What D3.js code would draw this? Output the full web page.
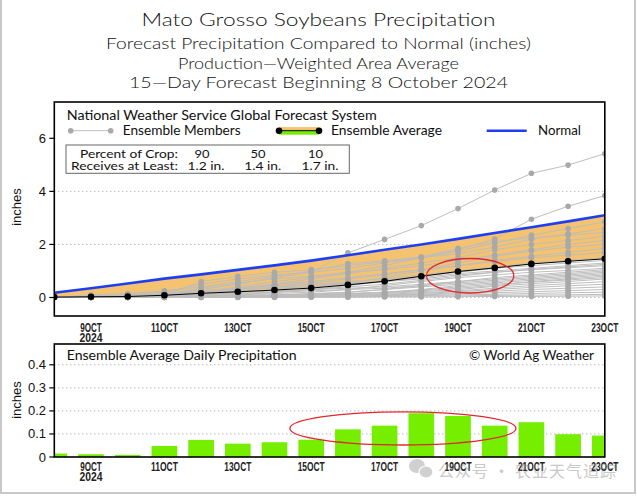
<!DOCTYPE html>
<html><head><meta charset="utf-8">
<script src="https://cdn.jsdelivr.net/npm/d3@7/dist/d3.min.js"></script>
<style>body{margin:0;background:#fff}svg{display:block}</style>
</head><body>
<script>
// ---------- data ----------
const days = [8,9,10,11,12,13,14,15,16,17,18,19,20,21,22,23];
const tickDays = [9,11,13,15,17,19,21,23];
const tickLabels = ["9OCT","11OCT","13OCT","15OCT","17OCT","19OCT","21OCT","23OCT"];
const yearLabel = "2024";
const yTicksTop = [0,2,4,6];
const yGridTop = [0,2,4];
const yTicksBot = [0,0.1,0.2,0.3,0.4];
const yTickBotLabels = ["0","0.1","0.2","0.3","0.4"];
const normal = [0.18,0.35,0.53,0.71,0.87,1.04,1.21,1.39,1.59,1.80,2.00,2.21,2.43,2.65,2.87,3.10];
const ensAvg = [0.015,0.027,0.036,0.084,0.158,0.216,0.28,0.355,0.475,0.611,0.801,0.979,1.115,1.266,1.365,1.458];
const daily  = [0.015,0.012,0.009,0.048,0.074,0.058,0.064,0.075,0.12,0.136,0.19,0.178,0.136,0.151,0.099,0.093];
const members = [
 [0,0.02,0.05,0.10,0.30,0.50,0.75,0.95,1.68,2.19,2.71,3.35,4.05,4.68,4.99,5.42],
 [0,0.01,0.03,0.06,0.20,0.40,0.60,0.75,0.95,1.20,1.50,1.80,2.20,2.95,3.44,3.84],
 [0,0.05,0.10,0.20,0.50,0.70,0.85,0.95,1.10,1.30,1.50,1.75,2.05,2.35,2.60,2.85],
 [0,0.02,0.05,0.10,0.60,0.80,0.95,1.05,1.20,1.35,1.50,1.65,1.90,2.20,2.40,2.60],
 [0,0.10,0.15,0.25,0.40,0.60,0.80,1.00,1.28,1.38,1.53,1.85,2.10,2.25,2.35,2.45],
 [0,0.00,0.02,0.05,0.15,0.30,0.50,0.70,0.90,1.10,1.30,1.50,1.80,2.00,2.15,2.30],
 [0,0.03,0.06,0.12,0.35,0.55,0.70,0.80,0.95,1.05,1.20,1.40,1.60,1.80,2.00,2.15],
 [0,0.02,0.04,0.08,0.20,0.35,0.45,0.55,0.70,0.85,1.05,1.30,1.55,1.75,1.90,2.00],
 [0,0.01,0.02,0.05,0.10,0.20,0.30,0.40,0.55,0.75,1.00,1.20,1.40,1.55,1.70,1.85],
 [0,0.04,0.08,0.15,0.25,0.35,0.50,0.60,0.75,0.90,1.05,1.20,1.35,1.50,1.60,1.70],
 [0,0.00,0.01,0.03,0.10,0.25,0.40,0.50,0.60,0.70,0.85,1.00,1.15,1.30,1.40,1.50],
 [0,0.02,0.05,0.10,0.20,0.30,0.35,0.40,0.50,0.65,0.80,0.95,1.10,1.20,1.30,1.40],
 [0,0.00,0.00,0.02,0.05,0.10,0.20,0.30,0.45,0.60,0.75,0.90,1.00,1.10,1.20,1.30],
 [0,0.05,0.10,0.15,0.25,0.30,0.40,0.45,0.55,0.60,0.70,0.85,0.95,1.05,1.15,1.25],
 [0,0.01,0.02,0.04,0.08,0.12,0.20,0.30,0.40,0.50,0.65,0.80,0.95,1.05,1.12,1.20],
 [0,0.00,0.01,0.02,0.05,0.10,0.15,0.20,0.30,0.45,0.60,0.75,0.85,0.95,1.02,1.10],
 [0,0.03,0.05,0.08,0.12,0.18,0.25,0.30,0.35,0.40,0.50,0.60,0.75,0.85,0.95,1.05],
 [0,0.00,0.00,0.01,0.03,0.05,0.08,0.12,0.20,0.30,0.45,0.60,0.70,0.80,0.90,1.00],
 [0,0.02,0.03,0.05,0.10,0.15,0.20,0.25,0.30,0.35,0.45,0.55,0.65,0.75,0.85,0.95],
 [0,0.00,0.01,0.02,0.04,0.06,0.10,0.15,0.20,0.30,0.40,0.50,0.60,0.70,0.80,0.90],
 [0,0.01,0.02,0.03,0.05,0.08,0.10,0.12,0.15,0.20,0.30,0.45,0.55,0.65,0.75,0.85],
 [0,0.00,0.00,0.01,0.02,0.04,0.06,0.08,0.12,0.18,0.25,0.35,0.45,0.60,0.70,0.80],
 [0,0.01,0.02,0.03,0.04,0.06,0.08,0.10,0.14,0.20,0.28,0.40,0.50,0.58,0.66,0.75],
 [0,0.00,0.01,0.01,0.02,0.03,0.05,0.07,0.10,0.15,0.22,0.30,0.42,0.52,0.60,0.70],
 [0,0.01,0.01,0.02,0.03,0.04,0.05,0.06,0.08,0.12,0.18,0.25,0.35,0.45,0.52,0.60],
 [0,0.00,0.00,0.01,0.02,0.03,0.04,0.05,0.07,0.10,0.15,0.22,0.30,0.38,0.44,0.50],
 [0,0.00,0.01,0.01,0.02,0.03,0.04,0.05,0.06,0.08,0.12,0.18,0.24,0.30,0.35,0.40],
 [0,0.00,0.00,0.00,0.01,0.02,0.03,0.04,0.05,0.07,0.10,0.14,0.18,0.22,0.26,0.30],
 [0,0.00,0.00,0.00,0.01,0.01,0.02,0.03,0.04,0.05,0.07,0.10,0.12,0.15,0.18,0.20],
 [0,0.00,0.00,0.00,0.00,0.01,0.01,0.02,0.03,0.04,0.05,0.06,0.08,0.09,0.10,0.12],
 [0,0.00,0.00,0.00,0.00,0.00,0.01,0.01,0.01,0.02,0.02,0.03,0.04,0.04,0.05,0.06]
];
const cropPct = ["90","50","10"];
const cropAmt = ["1.2 in.","1.4 in.","1.7 in."];
const titles = ["Mato Grosso Soybeans Precipitation",
  "Forecast Precipitation Compared to Normal (inches)",
  "Production\u2014Weighted Area Average",
  "15\u2014Day Forecast Beginning 8 October 2024"];
// annotation ellipses: [centerDay, centerValue, radiusDays, radiusValue]
const topEllipse = [19.33, 0.82, 1.19, 0.65];
const botEllipse = [17.5, 0.124, 3.08, 0.072];

// ---------- layout ----------
const W = 637, H = 496;
const L = 54.3, R = 604.8;
const topT = 102, topB = 316;
const botT = 344, botB = 457;
const svg = d3.select("body").append("svg").attr("width", W).attr("height", H);
const FONT = "Lato, 'DejaVu Sans', sans-serif";
const NUMF = "'Liberation Sans', Arial, sans-serif";

svg.append("rect").attr("x",1).attr("y",-3).attr("width",634).attr("height",496)
  .attr("fill","#fff").attr("stroke","#c8c8c8").attr("stroke-width",2);

const x = d3.scaleLinear().domain([8,23]).range([L,R]);
const y = d3.scaleLinear().domain([0,6]).range([297.5,138.3]);
const y2 = d3.scaleLinear().domain([0,0.4]).range([457,364.8]);

// titles
const titleY = [26, 49.3, 69.3, 88.3], titleSz = [18, 15.5, 15.5, 15.5], titleLen=[354,425,281,379];
titles.forEach((t,i)=>{
  svg.append("text").attr("x",318.5).attr("y",titleY[i]).attr("text-anchor","middle")
    .attr("font-family",FONT).attr("font-weight",300).attr("font-size",titleSz[i]).attr("fill","#111")
    .attr("textLength",titleLen[i]).attr("lengthAdjust","spacingAndGlyphs").text(t);
});

const defs = svg.append("defs");
defs.append("clipPath").attr("id","clipTop").append("rect")
  .attr("x",L).attr("y",topT).attr("width",R-L).attr("height",topB-topT);
defs.append("clipPath").attr("id","clipBot").append("rect")
  .attr("x",L).attr("y",botT).attr("width",R-L).attr("height",botB-botT);

// ---------- top plot ----------
const gT = svg.append("g").attr("clip-path","url(#clipTop)");
gT.selectAll(".grid").data(yGridTop).join("line")
  .attr("x1",L).attr("x2",R).attr("y1",d=>y(d)).attr("y2",d=>y(d))
  .attr("stroke","#999").attr("stroke-width",1).attr("stroke-dasharray","1,3");

const area = d3.area().x((d,i)=>x(days[i])).y0((d,i)=>y(ensAvg[i])).y1((d,i)=>y(normal[i]));
gT.append("path").datum(days).attr("d",area).attr("fill","#f5c36f");

const line = d3.line().x((d,i)=>x(days[i])).y(d=>y(d));
gT.selectAll(".mem").data(members).join("path")
  .attr("d",line).attr("fill","none").attr("stroke","#bdbdbd").attr("stroke-width",1);
members.forEach(m=>{
  gT.selectAll(null).data(m).join("circle")
    .attr("cx",(d,i)=>x(days[i])).attr("cy",d=>y(d)).attr("r",2.8).attr("fill","#a9a9a9");
});
gT.append("path").datum(normal).attr("d",line).attr("fill","none")
  .attr("stroke","#1f3ef2").attr("stroke-width",2.6);
gT.append("path").datum(ensAvg).attr("d",line).attr("fill","none")
  .attr("stroke","#000").attr("stroke-width",1);
gT.selectAll(".avgdot").data(ensAvg).join("circle")
  .attr("cx",(d,i)=>x(days[i])).attr("cy",d=>y(d)).attr("r",3.3).attr("fill","#000");

// red annotation ellipse
svg.append("ellipse").attr("cx",x(topEllipse[0])).attr("cy",y(topEllipse[1]))
  .attr("rx",x(topEllipse[0]+topEllipse[2])-x(topEllipse[0]))
  .attr("ry",y(0)-y(topEllipse[3]))
  .attr("fill","none").attr("stroke","#e3262a").attr("stroke-width",1.3);

// frame
svg.append("rect").attr("x",L).attr("y",topT).attr("width",R-L).attr("height",topB-topT)
  .attr("fill","none").attr("stroke","#000").attr("stroke-width",1.6);

// y axis top
yTicksTop.forEach(t=>{
  svg.append("line").attr("x1",L-5).attr("x2",L).attr("y1",y(t)).attr("y2",y(t)).attr("stroke","#000").attr("stroke-width",1.2);
  svg.append("text").attr("x",46).attr("y",y(t)+4.5).attr("text-anchor","end")
    .attr("font-family",NUMF).attr("font-size",13).attr("fill","#111").text(t);
});
svg.append("text").attr("transform","translate(21,207) rotate(-90)").attr("text-anchor","middle")
  .attr("font-family",NUMF).attr("font-size",13).attr("fill","#111").text("inches");

// x labels
function xLabels(yb){
  tickDays.forEach((d,i)=>{
    const s = tickLabels[i];
    svg.append("text").attr("x",x(d)).attr("y",yb).attr("text-anchor","middle")
      .attr("font-family",NUMF).attr("font-size",12).attr("font-weight","bold").attr("fill","#222")
      .attr("textLength",s.length*5.4).attr("lengthAdjust","spacingAndGlyphs").text(s);
  });
  svg.append("text").attr("x",x(tickDays[0])).attr("y",yb+10).attr("text-anchor","middle")
    .attr("font-family",NUMF).attr("font-size",12).attr("font-weight","bold").attr("fill","#222")
    .attr("textLength",23).attr("lengthAdjust","spacingAndGlyphs").text(yearLabel);
}
xLabels(331.5);

// legend
const lg = svg.append("g").attr("font-family",FONT).attr("fill","#111");
lg.append("text").attr("x",66.7).attr("y",120).attr("font-size",12.5)
  .attr("textLength",310).attr("lengthAdjust","spacingAndGlyphs")
  .text("National Weather Service Global Forecast System");
const ly = 130.7;
lg.append("line").attr("x1",70.7).attr("x2",110.7).attr("y1",ly).attr("y2",ly).attr("stroke","#bdbdbd").attr("stroke-width",1);
[70.7,110.7].forEach(cx=>lg.append("circle").attr("cx",cx).attr("cy",ly).attr("r",2.8).attr("fill","#a9a9a9"));
lg.append("text").attr("x",122.7).attr("y",ly+4.3).attr("font-size",12.5)
  .attr("textLength",118).attr("lengthAdjust","spacingAndGlyphs").text("Ensemble Members");
lg.append("rect").attr("x",279).attr("y",ly-3.6).attr("width",40).attr("height",3.6).attr("fill","#f5c36f");
lg.append("rect").attr("x",279).attr("y",ly).attr("width",40).attr("height",4).attr("fill","#76ee00");
lg.append("line").attr("x1",279).attr("x2",319).attr("y1",ly).attr("y2",ly).attr("stroke","#000").attr("stroke-width",1);
[279,319].forEach(cx=>lg.append("circle").attr("cx",cx).attr("cy",ly).attr("r",3.3).attr("fill","#000"));
lg.append("text").attr("x",331).attr("y",ly+4.3).attr("font-size",12.5)
  .attr("textLength",111).attr("lengthAdjust","spacingAndGlyphs").text("Ensemble Average");
lg.append("line").attr("x1",486.7).attr("x2",526.7).attr("y1",ly).attr("y2",ly).attr("stroke","#1f3ef2").attr("stroke-width",2.6);
lg.append("text").attr("x",538).attr("y",ly+4.3).attr("font-size",12.5)
  .attr("textLength",43).attr("lengthAdjust","spacingAndGlyphs").text("Normal");

// crop table
lg.append("rect").attr("x",66).attr("y",145).attr("width",283.3).attr("height",28.3)
  .attr("fill","#fff").attr("stroke","#666").attr("stroke-width",1);
const r1 = 158, r2 = 169.5, tfs = 10.5;
lg.append("text").attr("x",178).attr("y",r1).attr("text-anchor","end").attr("font-size",tfs)
  .attr("textLength",98).attr("lengthAdjust","spacingAndGlyphs").text("Percent of Crop:");
lg.append("text").attr("x",178).attr("y",r2).attr("text-anchor","end").attr("font-size",tfs)
  .attr("textLength",107).attr("lengthAdjust","spacingAndGlyphs").text("Receives at Least:");
const pctX = [202,258,315.5], amtX = [206,262.7,320];
cropPct.forEach((p,i)=>lg.append("text").attr("x",pctX[i]).attr("y",r1).attr("text-anchor","middle")
  .attr("font-size",tfs).attr("textLength",15).attr("lengthAdjust","spacingAndGlyphs").text(p));
cropAmt.forEach((a,i)=>lg.append("text").attr("x",amtX[i]).attr("y",r2).attr("text-anchor","middle")
  .attr("font-size",tfs).attr("textLength",37).attr("lengthAdjust","spacingAndGlyphs").text(a));

// ---------- bottom plot ----------
const gB = svg.append("g").attr("clip-path","url(#clipBot)");
gB.selectAll(".grid2").data(yTicksBot.slice(1)).join("line")
  .attr("x1",L).attr("x2",R).attr("y1",d=>y2(d)).attr("y2",d=>y2(d))
  .attr("stroke","#999").attr("stroke-width",1).attr("stroke-dasharray","1,3");
const bw = x(8.7)-x(8);
gB.selectAll(".bar").data(daily).join("rect")
  .attr("x",(d,i)=>x(days[i])-bw/2).attr("width",bw)
  .attr("y",d=>y2(d)).attr("height",d=>y2(0)-y2(d)).attr("fill","#76ee00");
svg.append("rect").attr("x",L).attr("y",botT).attr("width",R-L).attr("height",botB-botT)
  .attr("fill","none").attr("stroke","#000").attr("stroke-width",1.6);
yTicksBot.forEach((t,i)=>{
  svg.append("line").attr("x1",L-5).attr("x2",L).attr("y1",y2(t)).attr("y2",y2(t)).attr("stroke","#000").attr("stroke-width",1.2);
  svg.append("text").attr("x",46).attr("y",y2(t)+4.5).attr("text-anchor","end")
    .attr("font-family",NUMF).attr("font-size",13).attr("fill","#111").text(yTickBotLabels[i]);
});
svg.append("text").attr("transform","translate(21,400) rotate(-90)").attr("text-anchor","middle")
  .attr("font-family",NUMF).attr("font-size",13).attr("fill","#111").text("inches");
xLabels(470.5);
svg.append("text").attr("x",66.7).attr("y",360).attr("font-family",FONT).attr("font-size",12.5).attr("fill","#111")
  .attr("textLength",230).attr("lengthAdjust","spacingAndGlyphs").text("Ensemble Average Daily Precipitation");
svg.append("text").attr("x",594).attr("y",360).attr("text-anchor","end").attr("font-family",FONT).attr("font-size",12.5).attr("fill","#111")
  .attr("textLength",125).attr("lengthAdjust","spacingAndGlyphs").text("\u00A9 World Ag Weather");

svg.append("ellipse").attr("cx",x(botEllipse[0])).attr("cy",y2(botEllipse[1]))
  .attr("rx",x(botEllipse[0]+botEllipse[2])-x(botEllipse[0]))
  .attr("ry",y2(0)-y2(botEllipse[3]))
  .attr("fill","none").attr("stroke","#e3262a").attr("stroke-width",1.3);

// watermark
const wm = svg.append("g").attr("opacity",0.45);
wm.append("ellipse").attr("cx",417).attr("cy",466).attr("rx",8).attr("ry",7).attr("fill","#999");
wm.append("ellipse").attr("cx",426).attr("cy",472).attr("rx",7).attr("ry",6).attr("fill","#999").attr("stroke","#fff").attr("stroke-width",1.2);
wm.append("text").attr("x",438).attr("y",477).attr("font-family","'Noto Sans CJK SC', sans-serif")
  .attr("font-size",16).attr("fill","#888").attr("textLength",178).attr("lengthAdjust","spacing")
  .text("公众号 · 农业天气追踪");
</script>
</body></html>
